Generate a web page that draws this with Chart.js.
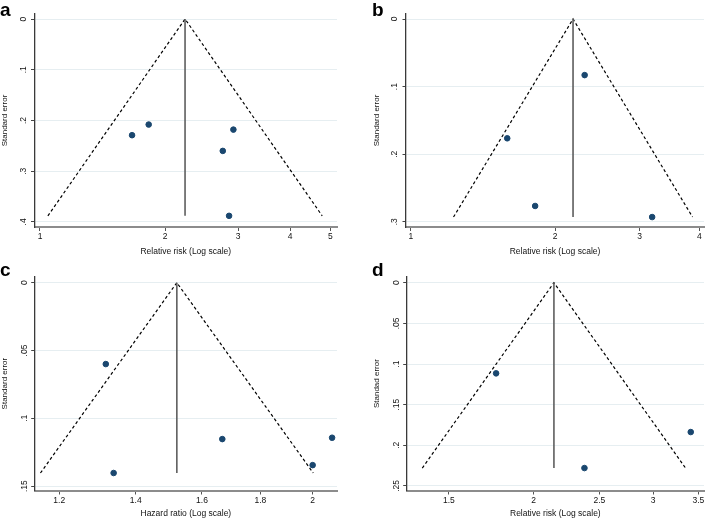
<!DOCTYPE html>
<html lang="en">
<head>
<meta charset="UTF-8">
<title>Funnel plots a-d</title>
<script src="https://cdn.jsdelivr.net/npm/chart.js"></script>
<style>
    body { margin: 0; background: #fff; width: 709px; height: 521px; position: relative; overflow: hidden; }
    canvas { position: absolute; }
    .letter {
        position: absolute;
        font-family: "Liberation Sans", Arial, sans-serif;
        font-weight: bold;
        font-size: 19px;
        line-height: 1;
        color: #000;
    }
</style>
</head>
<body>
<canvas id="chartA" width="354" height="260" style="left:0;top:0"></canvas>
<canvas id="chartB" width="354" height="260" style="left:355px;top:0"></canvas>
<canvas id="chartC" width="354" height="261" style="left:0;top:260px"></canvas>
<canvas id="chartD" width="354" height="261" style="left:355px;top:260px"></canvas>
<div class="letter" style="left:0;top:0">a</div>
<div class="letter" style="left:372px;top:0">b</div>
<div class="letter" style="left:0;top:260px">c</div>
<div class="letter" style="left:372px;top:260px">d</div>

<script>
// panel a: relative risk
const aRisk = [1.666, 1.827, 2.922, 2.755, 2.853];
const aSE = [0.229, 0.208, 0.218, 0.260, 0.388];
const aPooled = 2.235;
const aXTicks = [1, 2, 3, 4, 5];
const aYTicks = [0, 0.1, 0.2, 0.3, 0.4];

// panel b: relative risk
const bRisk = [2.305, 1.589, 1.817, 3.188];
const bSE = [0.083, 0.1765, 0.2766, 0.293];
const bPooled = 2.18;
const bXTicks = [1, 2, 3, 4];
const bYTicks = [0, 0.1, 0.2, 0.3];

// panel c: hazard ratio
const cRatio = [1.318, 1.339, 1.667, 2.0, 2.08];
const cSE = [0.060, 0.1403, 0.1153, 0.1345, 0.1143];
const cPooled = 1.521;
const cXTicks = [1.2, 1.4, 1.6, 1.8, 2];
const cYTicks = [0, 0.05, 0.1, 0.15];

// panel d: relative risk
const dRisk = [1.761, 2.377, 3.41];
const dSE = [0.1115, 0.228, 0.1837];
const dPooled = 2.143;
const dXTicks = [1.5, 2, 2.5, 3, 3.5];
const dYTicks = [0, 0.05, 0.1, 0.15, 0.2, 0.25];

const FONT = '"Liberation Sans", Arial, sans-serif';

function seLabel(v) {
    if (v === 0) return '0';
    return String(+v.toFixed(3)).replace(/^0\./, '.');
}

function makePanel(id, est, se, pooled, xTicks, yTicks, xTitle, box) {
    const seMax = Math.max(...se);
    const z = 1.96;
    const points = est.map((v, i) => ({ x: v, y: se[i] }));
    // pseudo 95% confidence limits
    const funnel = [
        { x: pooled * Math.exp(-z * seMax), y: seMax },
        { x: pooled, y: 0 },
        { x: pooled * Math.exp(z * seMax), y: seMax }
    ];
    const pooledLine = [{ x: pooled, y: 0 }, { x: pooled, y: seMax }];

    return new Chart(document.getElementById(id), {
        type: 'scatter',
        data: {
            datasets: [
                {
                    data: points,
                    backgroundColor: '#1a476f',
                    borderColor: '#1a476f',
                    pointRadius: 2.8,
                    showLine: false
                },
                {
                    data: pooledLine,
                    showLine: true,
                    borderColor: '#5e5e5e',
                    borderWidth: 1.6,
                    pointRadius: 0
                },
                {
                    data: funnel,
                    showLine: true,
                    borderColor: '#000',
                    borderWidth: 1.2,
                    borderDash: [3, 2.5],
                    pointRadius: 0
                }
            ]
        },
        options: {
            responsive: false,
            animation: false,
            layout: {
                padding: { left: 0, top: box.top, right: box.w - box.right, bottom: 0 }
            },
            plugins: { legend: { display: false }, tooltip: { enabled: false } },
            scales: {
                x: {
                    type: 'logarithmic',
                    min: box.xMin,
                    max: box.xMax,
                    afterBuildTicks: s => { s.ticks = xTicks.map(v => ({ value: v })); },
                    afterFit: s => { s.height = box.h - box.bottom; },
                    grid: { drawOnChartArea: false, tickLength: 4, tickColor: '#555', tickWidth: 1 },
                    border: { color: '#8c8c8c', width: 2 },
                    ticks: {
                        autoSkip: false,
                        maxRotation: 0,
                        padding: 1,
                        color: '#111',
                        font: { family: FONT, size: 8.5 },
                        callback: v => String(v)
                    },
                    title: {
                        display: true,
                        text: xTitle,
                        color: '#111',
                        font: { family: FONT, size: 8.5 },
                        padding: { top: 0, bottom: box.xTitlePad }
                    }
                },
                y: {
                    type: 'linear',
                    reverse: true,
                    min: box.yMin,
                    max: box.yMax,
                    afterBuildTicks: s => { s.ticks = yTicks.map(v => ({ value: v })); },
                    afterFit: s => { s.width = box.left; },
                    grid: { color: '#e6eef1', lineWidth: 1, tickLength: 3.5, tickColor: '#444', tickWidth: 1 },
                    border: { color: '#3a3a3a', width: 1.3 },
                    ticks: {
                        autoSkip: false,
                        minRotation: 90,
                        maxRotation: 90,
                        crossAlign: 'center',
                        padding: box.yTickPad,
                        color: '#111',
                        font: { family: FONT, size: 8.5 },
                        callback: v => seLabel(v)
                    },
                    title: {
                        display: true,
                        text: box.yTitle,
                        color: '#111',
                        font: { family: FONT, size: 8 },
                        padding: { top: box.yTitlePad, bottom: 0 }
                    }
                }
            }
        }
    });
}

makePanel('chartA', aRisk, aSE, aPooled, aXTicks, aYTicks, 'Relative risk (Log scale)',
    { w: 354, h: 260, left: 34.5, right: 337, top: 14, bottom: 227,
      xMin: 0.970, xMax: 5.19, yMin: -0.0099, yMax: 0.410,
      yTitle: 'Standard error', yTitlePad: 0, xTitlePad: 3.2, yTickPad: 4 });

makePanel('chartB', bRisk, bSE, bPooled, bXTicks, bYTicks, 'Relative risk (Log scale)',
    { w: 354, h: 260, left: 51, right: 354, top: 14, bottom: 227,
      xMin: 0.977, xMax: 4.09, yMin: -0.0074, yMax: 0.3077,
      yTitle: 'Standard error', yTitlePad: 17, xTitlePad: 3.2, yTickPad: 4 });

makePanel('chartC', cRatio, cSE, cPooled, cXTicks, cYTicks, 'Hazard ratio (Log scale)',
    { w: 354, h: 261, left: 34.7, right: 337, top: 16.7, bottom: 230.5,
      xMin: 1.142, xMax: 2.1007, yMin: -0.0044, yMax: 0.1532,
      yTitle: 'Standard error', yTitlePad: 0, xTitlePad: 2.2, yTickPad: 0.5 });

makePanel('chartD', dRisk, dSE, dPooled, dXTicks, dYTicks, 'Relative risk (Log scale)',
    { w: 354, h: 261, left: 51.7, right: 354, top: 16.7, bottom: 230.5,
      xMin: 1.346, xMax: 3.567, yMin: -0.0074, yMax: 0.2556,
      yTitle: 'Standad error', yTitlePad: 17, xTitlePad: 2.2, yTickPad: 0.5 });
</script>
</body>
</html>
